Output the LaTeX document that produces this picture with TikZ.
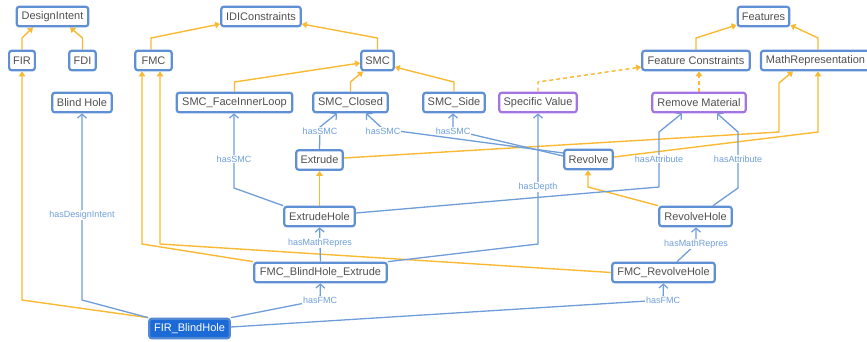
\documentclass[tikz,border=0pt]{standalone}
\usepackage{fontspec}
\setmainfont{Liberation Sans}
\usetikzlibrary{arrows.meta,calc}
\definecolor{nodeblue}{HTML}{5E90D3}
\definecolor{nodepurple}{HTML}{A374E2}
\definecolor{isaorange}{HTML}{F9B933}
\definecolor{relblue}{HTML}{6E9DD8}
\definecolor{lblblue}{HTML}{6F9FDB}
\definecolor{txtgrey}{HTML}{505050}
\definecolor{selfill}{HTML}{1C6AD6}
\pgfdeclarelayer{bg}
\pgfsetlayers{bg,main}
\begin{document}
\begin{tikzpicture}[x=1pt,y=-1pt,
  nd/.style={draw=nodeblue, line width=2.2pt, rounded corners=2.5pt, fill=white,
    minimum height=19.5pt, inner xsep=4pt, inner ysep=2pt, text=txtgrey,
    font=\fontsize{11}{13}\selectfont},
  pnd/.style={nd, draw=nodepurple},
  sel/.style={nd, fill=selfill, draw=nodeblue!80!selfill, text=white},
  isa/.style={draw=isaorange, line width=1.4pt, -{Triangle[length=5pt,width=6.5pt]}},
  isad/.style={isa, dash pattern=on 4pt off 3pt},
  rel/.style={draw=relblue, line width=1.3pt, -{Straight Barb[length=4pt,width=9pt,line width=1.2pt]}},
  lbl/.style={fill=white, inner sep=1pt, text=lblblue, font=\fontsize{9}{10}\selectfont}
]
\useasboundingbox (0,0) rectangle (867,341);

% nodes
\node[nd, minimum width=71.5pt] (DesignIntent) at (52.5,16.5) {DesignIntent};
\node[nd, minimum width=79.5pt] (IDIConstraints) at (261,16.5) {IDIConstraints};
\node[nd, minimum width=51.5pt] (Features) at (763.5,16.5) {Features};
\node[nd, minimum width=25.5pt] (FIR) at (22,60.5) {FIR};
\node[nd, minimum width=26.5pt] (FDI) at (82.5,60.5) {FDI};
\node[nd, minimum width=36.5pt] (FMC) at (153.5,60.5) {FMC};
\node[nd, minimum width=32.5pt] (SMC) at (377.5,60.5) {SMC};
\node[nd, minimum width=107.5pt] (FeatureConstraints) at (696,60.5) {Feature Constraints};
\node[nd, minimum width=109pt, inner xsep=3pt] (MathRepresentation) at (815.5,60.5) {MathRepresentation};
\node[nd, minimum width=59.5pt] (BlindHole) at (82,102.5) {Blind Hole};
\node[nd, minimum width=115.5pt] (SMC_FaceInnerLoop) at (234.5,102.5) {SMC\_FaceInnerLoop};
\node[nd, minimum width=74.5pt] (SMC_Closed) at (350.5,102.5) {SMC\_Closed};
\node[nd, minimum width=61.5pt] (SMC_Side) at (454,102.5) {SMC\_Side};
\node[pnd, minimum width=77.5pt] (SpecificValue) at (538,102.5) {Specific Value};
\node[pnd, minimum width=93.5pt] (RemoveMaterial) at (699,102.5) {Remove Material};
\node[nd, minimum width=46.5pt] (Extrude) at (319.5,160) {Extrude};
\node[nd, minimum width=48.5pt] (Revolve) at (588.5,159.5) {Revolve};
\node[nd, minimum width=70.5pt] (ExtrudeHole) at (319.5,216.5) {ExtrudeHole};
\node[nd, minimum width=72.5pt] (RevolveHole) at (695.5,216.5) {RevolveHole};
\node[nd, minimum width=132.5pt] (FMC_BlindHole_Extrude) at (320.5,272.5) {FMC\_BlindHole\_Extrude};
\node[nd, minimum width=102.5pt] (FMC_RevolveHole) at (663.5,272.5) {FMC\_RevolveHole};
\node[sel, minimum width=80.5pt] (FIR_BlindHole) at (189.5,328.5) {FIR\_BlindHole};

\begin{pgfonlayer}{bg}
% subclass (orange) edges
\draw[isa] (FIR.north) -- (FIR.north |- 0,38) -- (DesignIntent.south -| 33,0);
\draw[isa] (FDI.north) -- (FDI.north |- 0,38) -- (DesignIntent.south -| 70,0);
\draw[isa] (FMC.north -| 151,0) -- (151,38) -- (IDIConstraints.west |- 0,24);
\draw[isa] (SMC.north) -- (SMC.north |- 0,38) -- (IDIConstraints.east |- 0,24);
\draw[isa] (SMC_FaceInnerLoop.north) -- (SMC_FaceInnerLoop.north |- 0,82) -- (SMC.west |- 0,63);
\draw[isa] (SMC_Closed.north) -- (SMC_Closed.north |- 0,82) -- (SMC.south -| 363,0);
\draw[isa] (SMC_Side.north) -- (SMC_Side.north |- 0,82) -- (SMC.east |- 0,67);
\draw[isa] (FeatureConstraints.north) -- (FeatureConstraints.north |- 0,38) -- (Features.west |- 0,25);
\draw[isa] (MathRepresentation.north -| 818,0) -- (818,38) -- (Features.east |- 0,25);
\draw[isad] (SpecificValue.north) -- (SpecificValue.north |- 0,82) -- (FeatureConstraints.west |- 0,67);
\draw[isad] (RemoveMaterial.north) -- (FeatureConstraints.south -| RemoveMaterial.north);
\draw[isa] (Extrude.east |- 0,158) -- (779,132) -- (779,83) -- (MathRepresentation.south -| 793,0);
\draw[isa] (Revolve.east |- 0,157) -- (818,132) -- (MathRepresentation.south -| 818,0);
\draw[isa] (ExtrudeHole.north) -- (Extrude.south);
\draw[isa] (RevolveHole.north west) -- (588,187) -- (Revolve.south -| 588,0);
\draw[isa] (FMC_BlindHole_Extrude.north west) -- (142,244) -- (FMC.south -| 142,0);
\draw[isa] (FMC_RevolveHole.west) -- (160,244) -- (FMC.south -| 160,0);
\draw[isa] (FIR_BlindHole.north west) -- (22,300) -- (FIR.south);

% property (blue) edges
\draw[rel] (FIR_BlindHole.north west) -- (82,300) -- (BlindHole.south);
\draw[rel] (FIR_BlindHole.north east) -- (320,300) -- (FMC_BlindHole_Extrude.south);
\draw[rel] (FIR_BlindHole.east |- 0,327) -- (663,300) -- (FMC_RevolveHole.south);
\draw[rel] (FMC_BlindHole_Extrude.north) -- (ExtrudeHole.south);
\draw[rel] (FMC_RevolveHole.north -| 677,0) -- (696,244) -- (RevolveHole.south -| 696,0);
\draw[rel] (FMC_BlindHole_Extrude.north east) -- (538,244) -- (SpecificValue.south);
\draw[rel] (ExtrudeHole.north west) -- (234,188) -- (SMC_FaceInnerLoop.south -| 234,0);
\draw[rel] (ExtrudeHole.east |- 0,213) -- (659,187) -- (659,132) -- (RemoveMaterial.south -| 682,0);
\draw[rel] (RevolveHole.north -| 713,0) -- (738,188) -- (738,132) -- (RemoveMaterial.south -| 717,0);
\draw[rel] (Extrude.north) -- (320,127) -- (SMC_Closed.south -| 337,0);
\draw[rel] (Revolve.west |- 0,153) -- (383,129) -- (SMC_Closed.south -| 366,0);
\draw[rel] (Revolve.west |- 0,156) -- (453,130) -- (SMC_Side.south -| 453,0);

% labels
\node[lbl] (l1) at (82,215) {hasDesignIntent};
\node[lbl] (l2) at (320,300) {hasFMC};
\node[lbl] (l3) at (663,300) {hasFMC};
\node[lbl] (l4) at (320,243) {hasMathRepres};
\node[lbl] (l5) at (696,244) {hasMathRepres};
\node[lbl] (l6) at (538,187) {hasDepth};
\node[lbl] (l7) at (234,159) {hasSMC};
\node[lbl] (l8) at (659,159) {hasAttribute};
\node[lbl] (l9) at (738,159) {hasAttribute};
\node[lbl] (l10) at (320,131) {hasSMC};
\node[lbl] (l11) at (383,131) {hasSMC};
\node[lbl] (l12) at (453,131) {hasSMC};
\end{pgfonlayer}
\end{tikzpicture}
\end{document}
